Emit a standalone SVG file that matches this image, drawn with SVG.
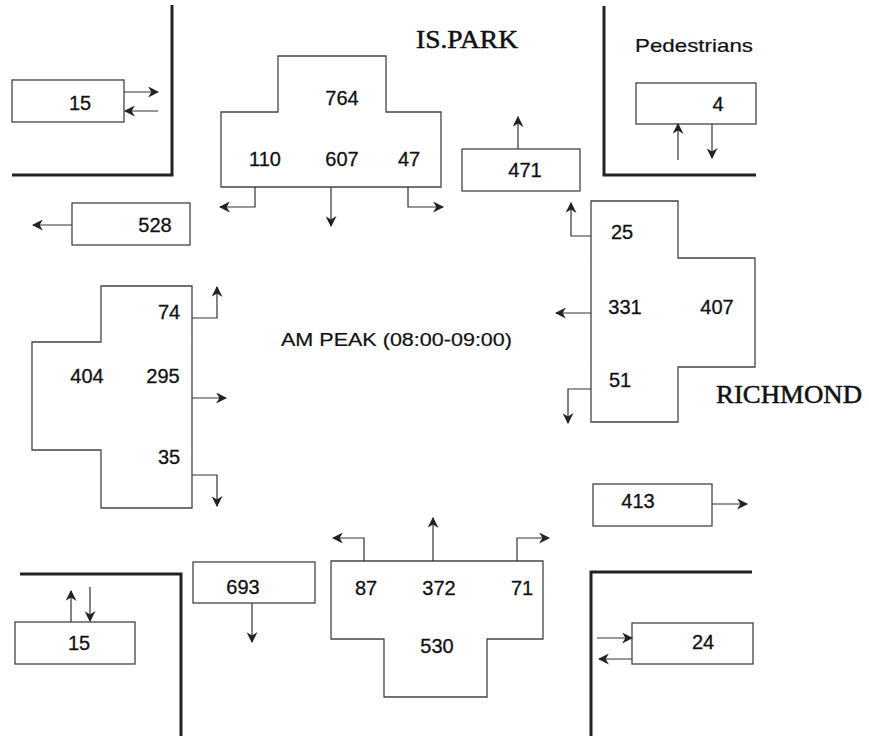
<svg xmlns="http://www.w3.org/2000/svg" width="869" height="736" viewBox="0 0 869 736">
<defs>
<marker id="ah" viewBox="0 0 10 10" refX="9" refY="5" markerWidth="11" markerHeight="11" markerUnits="userSpaceOnUse" orient="auto">
<path d="M0,0 L10,5 L0,10 L3,5 Z" fill="#222"/>
</marker>
<style>
.box{fill:#fff;stroke:#444;stroke-width:1.3}
.wall{fill:none;stroke:#222;stroke-width:3}
.con{fill:none;stroke:#333;stroke-width:1.2;marker-end:url(#ah)}
.num{font-family:"Liberation Sans",Arial,sans-serif;font-size:20px;fill:#111;stroke:#111;stroke-width:0.3;text-anchor:middle}
.road{font-family:"Liberation Serif","Times New Roman",serif;font-size:25px;fill:#111;stroke:#111;stroke-width:0.5}
.lbl{font-family:"Liberation Sans",Arial,sans-serif;fill:#111;stroke:#111;stroke-width:0.2}
</style>
</defs>
<rect width="869" height="736" fill="#fff"/>
<g id="walls">
<path class="wall" d="M172,5 V175 H12"/>
<path class="wall" d="M604,6 V175 H756"/>
<path class="wall" d="M20,574 H181 V736"/>
<path class="wall" d="M752,572 H591 V736"/>
</g>
<g id="labels">
<text class="road" x="416" y="48" textLength="102" lengthAdjust="spacingAndGlyphs">IS.PARK</text>
<text class="road" x="716" y="403" textLength="146" lengthAdjust="spacingAndGlyphs">RICHMOND</text>
<text class="lbl" x="635" y="52" font-size="19" textLength="118" lengthAdjust="spacingAndGlyphs">Pedestrians</text>
<text class="lbl" x="281" y="346" font-size="18" textLength="231" lengthAdjust="spacingAndGlyphs">AM PEAK (08:00-09:00)</text>
</g>
<g id="node-north">
<path class="box" d="M278,56 H386 V112 H441 V187 H221 V112 H278 Z"/>
<text class="num" x="342" y="105">764</text>
<text class="num" x="265" y="166">110</text>
<text class="num" x="342" y="166">607</text>
<text class="num" x="409" y="166">47</text>
</g>
<g id="node-west">
<path class="box" d="M101,286 H192 V508 H101 V450 H32 V342 H101 Z"/>
<text class="num" x="169" y="319">74</text>
<text class="num" x="87" y="383">404</text>
<text class="num" x="163" y="383">295</text>
<text class="num" x="169" y="464">35</text>
</g>
<g id="node-east">
<path class="box" d="M591,201 H678 V258 H755 V367 H678 V422 H591 Z"/>
<text class="num" x="622" y="239">25</text>
<text class="num" x="625" y="314">331</text>
<text class="num" x="717" y="314">407</text>
<text class="num" x="620" y="387">51</text>
</g>
<g id="node-south">
<path class="box" d="M331,561 H543 V639 H487 V697 H384 V639 H331 Z"/>
<text class="num" x="366" y="595">87</text>
<text class="num" x="439" y="595">372</text>
<text class="num" x="522" y="595">71</text>
<text class="num" x="437" y="653">530</text>
</g>
<g id="node-ped-nw">
<rect class="box" x="12" y="80" width="112" height="42"/>
<text class="num" x="80" y="110">15</text>
</g>
<g id="node-ped-ne">
<rect class="box" x="636" y="83" width="120" height="41"/>
<text class="num" x="718" y="111">4</text>
</g>
<g id="node-ped-sw">
<rect class="box" x="15" y="622" width="120" height="42"/>
<text class="num" x="79" y="650">15</text>
</g>
<g id="node-ped-se">
<rect class="box" x="632" y="623" width="121" height="41"/>
<text class="num" x="703" y="649">24</text>
</g>
<g id="node-out-n">
<rect class="box" x="462" y="149" width="118" height="42"/>
<text class="num" x="525" y="177">471</text>
</g>
<g id="node-out-w">
<rect class="box" x="72" y="203" width="118" height="42"/>
<text class="num" x="155" y="232">528</text>
</g>
<g id="node-out-e">
<rect class="box" x="593" y="484" width="119" height="42"/>
<text class="num" x="638" y="508">413</text>
</g>
<g id="node-out-s">
<rect class="box" x="193" y="562" width="122" height="41"/>
<text class="num" x="243" y="594">693</text>
</g>
<g id="connectors">
<path class="con" d="M124,92 H158"/>
<path class="con" d="M158,111 H125"/>
<path class="con" d="M255,187 V207 H220"/>
<path class="con" d="M331,187 V226"/>
<path class="con" d="M408,187 V207 H443"/>
<path class="con" d="M518,149 V117"/>
<path class="con" d="M678,160 V124"/>
<path class="con" d="M712,124 V158"/>
<path class="con" d="M72,225 H33"/>
<path class="con" d="M192,318 H217 V287"/>
<path class="con" d="M192,398 H226"/>
<path class="con" d="M192,475 H217 V506"/>
<path class="con" d="M591,236 H571 V203"/>
<path class="con" d="M591,313 H556"/>
<path class="con" d="M591,389 H568 V423"/>
<path class="con" d="M712,504 H747"/>
<path class="con" d="M252,603 V642"/>
<path class="con" d="M71,622 V591"/>
<path class="con" d="M90,587 V621"/>
<path class="con" d="M364,561 V538 H333"/>
<path class="con" d="M433,561 V518"/>
<path class="con" d="M517,561 V538 H549"/>
<path class="con" d="M597,638 H632"/>
<path class="con" d="M632,659 H599"/>
</g>
</svg>
